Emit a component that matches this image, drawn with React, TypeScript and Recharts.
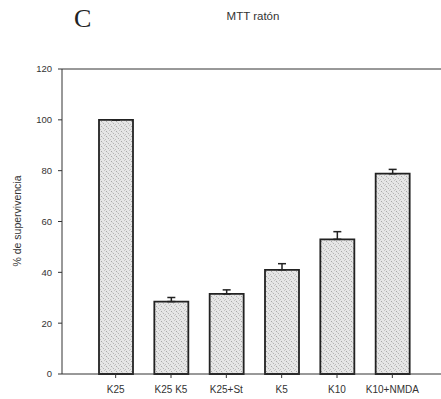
import { Bar, BarChart, ErrorBar, ReferenceLine, XAxis, YAxis } from 'recharts'

const categories = ['K25', 'K25 K5', 'K25+St', 'K5', 'K10', 'K10+NMDA']
const survival = [100, 28.5, 31.5, 41, 53, 78.8]
const sem = [0, 1.6, 1.6, 2.4, 3, 1.7]
const yTicks = [0, 20, 40, 60, 80, 100, 120]

const rows = categories.map((label, i) => ({
  label,
  value: survival[i],
  err: [0, sem[i]] as [number, number],
}))

const ink = '#333'
const font = '"Liberation Sans", Arial, sans-serif'

export default function App() {
  return (
    <div style={{ position: 'absolute', left: 0, top: 0, width: 441, height: 399, overflow: 'hidden', background: '#fff' }}>
      <svg width={441} height={399} style={{ position: 'absolute', left: 0, top: 0 }}>
        <text x={74} y={27} fontFamily='"Liberation Serif", serif' fontSize={26} fill="#222">C</text>
        <text x={253} y={20} textAnchor="middle" fontFamily={font} fontSize={11.5} fill={ink}>MTT ratón</text>
        <text
          x={21}
          y={221}
          transform="rotate(-90 21 221)"
          textAnchor="middle"
          fontFamily={font}
          fontSize={10.5}
          fill={ink}
        >
          % de supervivencia
        </text>
      </svg>
      <div style={{ position: 'absolute', left: 0, top: 0 }}>
        <BarChart width={446} height={399} data={rows} margin={{ top: 69, right: 0, bottom: 0, left: 0 }}>
          <defs>
            <pattern id="speckle" width={5} height={5} patternUnits="userSpaceOnUse">
              <rect width={5} height={5} fill="#e6e6e6" />
              <rect x={1} y={1} width={1} height={1} fill="#a8a8a8" />
              <rect x={3} y={3} width={1} height={1} fill="#b4b4b4" />
              <rect x={4} y={0} width={1} height={1} fill="#c6c6c6" />
              <rect x={0} y={4} width={1} height={1} fill="#bebebe" />
              <rect x={2} y={2} width={1} height={1} fill="#d2d2d2" />
            </pattern>
          </defs>
          <XAxis
            dataKey="label"
            height={25}
            padding={{ left: 26, right: 26 }}
            tick={{ fontSize: 10, fill: ink, fontFamily: font }}
            tickSize={4}
            tickMargin={8}
            tickLine={{ stroke: ink }}
            axisLine={{ stroke: ink }}
            interval={0}
          />
          <YAxis
            width={62}
            domain={[0, 120]}
            ticks={yTicks}
            tick={{ fontSize: 9.5, fill: ink, fontFamily: font }}
            tickSize={4}
            tickLine={{ stroke: ink }}
            axisLine={{ stroke: ink }}
            tickMargin={6}
          />
          <ReferenceLine y={120} stroke={ink} strokeWidth={1} />
          <Bar
            dataKey="value"
            barSize={34}
            fill="url(#speckle)"
            stroke="#222"
            strokeWidth={1.8}
            isAnimationActive={false}
          >
            <ErrorBar dataKey="err" width={4} stroke="#222" strokeWidth={1.5} direction="y" />
          </Bar>
        </BarChart>
      </div>
    </div>
  )
}
